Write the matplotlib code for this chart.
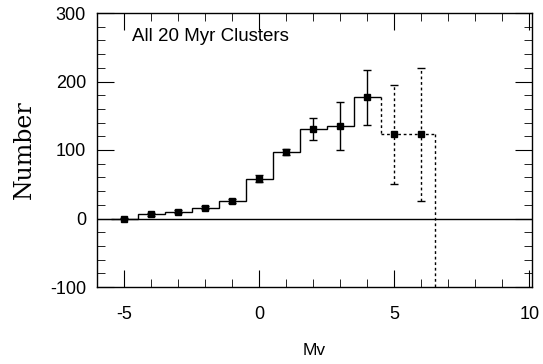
import matplotlib
matplotlib.use("Agg")
import matplotlib.pyplot as plt
import numpy as np
from matplotlib.ticker import MultipleLocator

plt.rcParams['axes.unicode_minus'] = False
plt.rcParams['font.family'] = ['Liberation Sans', 'DejaVu Sans']

mv_solid = [-5, -4, -3, -2, -1, 0, 1, 2, 3, 4]
n_solid = [0, 6, 10, 16, 25, 58, 97, 131, 135, 177]
err_solid = [1, 2, 2, 2, 3, 5, 5, 16, 35, 40]
mv_dash = [5, 6]
n_dash = [123, 123]
err_dash = [72, 97]

xticks = [-5, 0, 5, 10]
yticks = [-100, 0, 100, 200, 300]

fig = plt.figure(figsize=(5.43, 3.64), dpi=100)
ax = fig.add_axes([97/543, 1-287/364, 435/543, 274/364])

# solid histogram
xs = np.array(mv_solid, dtype=float)
edges = np.append(xs - 0.5, xs[-1] + 0.5)
ax.stairs(n_solid, edges, color='black', lw=1.0, baseline=None)
# dashed continuation
xd = np.array(mv_dash, dtype=float)
dedges = np.concatenate([[xs[-1] + 0.5], xd + 0.5])
ax.plot([dedges[0], dedges[0]], [n_solid[-1], n_dash[0]], color='black', lw=1.0, ls=(0, (2, 2)))
ax.stairs(n_dash, dedges, color='black', lw=1.0, ls=(0, (2, 2)), baseline=None)
ax.plot([dedges[-1], dedges[-1]], [n_dash[-1], -100], color='black', lw=1.0, ls=(0, (2, 2)))

ax.errorbar(mv_solid, n_solid, yerr=err_solid, fmt='s', color='black', ms=3.8,
            capsize=3, elinewidth=1.0, capthick=1.0)
eb = ax.errorbar(mv_dash, n_dash, yerr=err_dash, fmt='s', color='black', ms=3.8,
                 capsize=3, elinewidth=1.0, capthick=1.0)
for lc in eb[2]:
    lc.set_linestyle((0, (2, 2)))

ax.axhline(0, color='black', lw=1.0)

ax.set_xlim(-6, 10.1)
ax.set_ylim(-100, 300)
ax.set_xticks(xticks)
ax.set_yticks(yticks)
ax.xaxis.set_minor_locator(MultipleLocator(1))
ax.yaxis.set_minor_locator(MultipleLocator(20))
ax.tick_params(which='both', direction='in', top=True, right=True, labelsize=13)
ax.tick_params(which='major', length=12)
ax.tick_params(which='minor', length=6)
ax.tick_params(axis='x', pad=14)
ax.tick_params(axis='y', pad=8)
for s in ax.spines.values():
    s.set_linewidth(1.0)

ax.text(-4.72, 265, 'All 20 Myr Clusters', fontsize=13.5, va='center', ha='left')
ax.set_xlabel('Mv', fontsize=12.5, labelpad=14)
ax.set_ylabel('Number', fontsize=17, family='DejaVu Serif', labelpad=10)

fig.savefig('out.png', dpi=100)
